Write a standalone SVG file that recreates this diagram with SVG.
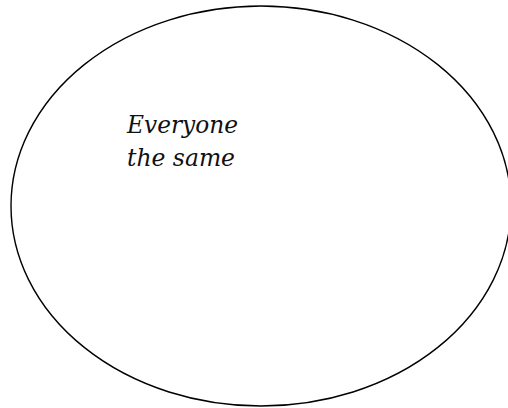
<svg xmlns="http://www.w3.org/2000/svg" width="508" height="408" viewBox="0 0 508 408">
<style>
.shape{fill:#ffffff;stroke:#000000;stroke-width:1.4}
.lbl{font-family:"DejaVu Serif","Liberation Serif",serif;font-style:italic;font-size:25px;fill:#111111}
</style>
<rect width="508" height="408" fill="#ffffff"/>
<g id="node-circle">
<ellipse class="shape" cx="261" cy="206" rx="250" ry="200"/>
<text class="lbl" x="127" y="133" textLength="111" lengthAdjust="spacingAndGlyphs">Everyone</text>
<text class="lbl" x="127" y="166" textLength="108" lengthAdjust="spacingAndGlyphs">the same</text>
</g>
<g id="connectors"></g>
</svg>
